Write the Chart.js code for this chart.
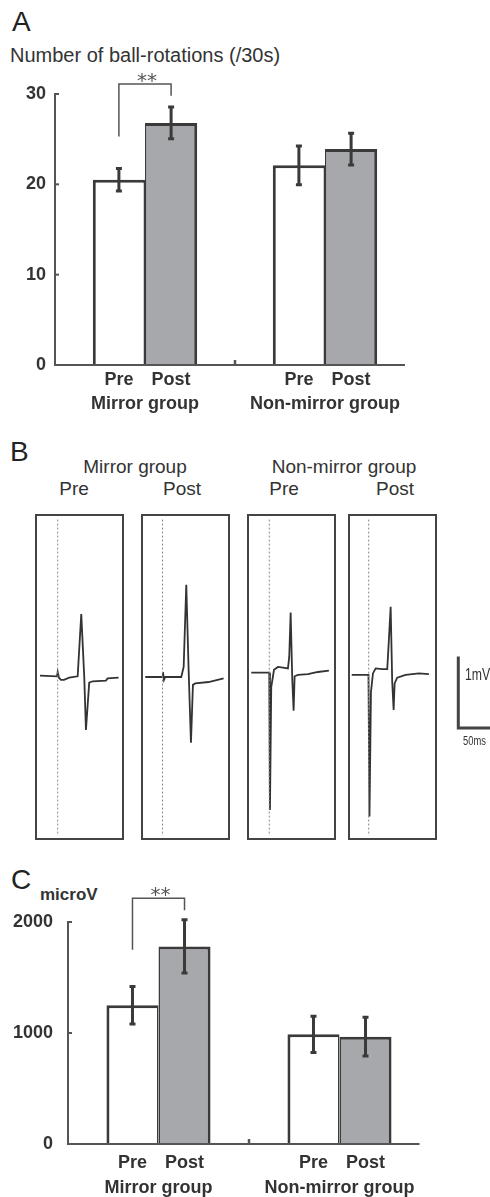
<!DOCTYPE html>
<html>
<head>
<meta charset="utf-8">
<script src="https://cdn.jsdelivr.net/npm/chart.js@4.4.0/dist/chart.umd.min.js"></script>
<style>
html, body { margin: 0; padding: 0; background: #fff; }
body { width: 490px; height: 1197px; position: relative; overflow: hidden;
       font-family: "Liberation Sans", Arial, sans-serif; color: #333; }
.wrap { position: absolute; }
.txt { position: absolute; line-height: 1; white-space: nowrap; }
.c { transform: translateX(-50%); }
.letter { font-size: 28px; color: #222; }
.hd { font-size: 19px; }
.narrow { transform: scaleX(0.72); transform-origin: 0 0; }
.box { position: absolute; top: 514px; width: 89px; height: 326px;
       border: 2px solid #444; box-sizing: border-box; }
.box div { position: relative; width: 85px; height: 322px; }
</style>
</head>
<body>

<!-- panel A -->
<div class="txt letter" style="left:12px;top:8px">A</div>
<div class="txt" style="left:10px;top:45px;font-size:20px">Number of ball-rotations (/30s)</div>
<div class="wrap" style="left:0;top:0;width:490px;height:420px"><canvas id="chartA"></canvas></div>

<!-- panel B -->
<div class="txt letter" style="left:10px;top:438px">B</div>
<div class="txt hd c" style="left:135px;top:457px">Mirror group</div>
<div class="txt hd c" style="left:74px;top:479px">Pre</div>
<div class="txt hd c" style="left:182px;top:479px">Post</div>
<div class="txt hd c" style="left:344px;top:457px">Non-mirror group</div>
<div class="txt hd c" style="left:284px;top:479px">Pre</div>
<div class="txt hd c" style="left:395px;top:479px">Post</div>

<div class="box" style="left:35px"><div><canvas id="tr0"></canvas></div></div>
<div class="box" style="left:141px"><div><canvas id="tr1"></canvas></div></div>
<div class="box" style="left:247px"><div><canvas id="tr2"></canvas></div></div>
<div class="box" style="left:348px"><div><canvas id="tr3"></canvas></div></div>

<div class="wrap" style="left:440px;top:640px;width:50px;height:100px"><canvas id="scaleBar"></canvas></div>
<div class="txt narrow" style="left:465px;top:666px;font-size:17px">1mV</div>
<div class="txt narrow" style="left:463px;top:734px;font-size:13px">50ms</div>

<!-- panel C -->
<div class="txt letter" style="left:11px;top:866px">C</div>
<div class="txt" style="left:40px;top:886px;font-size:17px;font-weight:bold">microV</div>
<div class="wrap" style="left:0;top:850px;width:490px;height:347px"><canvas id="chartC"></canvas></div>

<script>
// groups and phases
var groups = ['Mirror group', 'Non-mirror group'];
var phases = ['Pre', 'Post'];

// A: ball rotations per 30 s, mean and error
var rotPre = [20.5, 22.1];
var rotPost = [26.8, 23.9];
var rotPreErr = [1.25, 2.15];
var rotPostErr = [1.75, 1.75];
var rotTicks = [0, 10, 20, 30];

// C: MEP amplitude (microV)
var mepPre = [1250, 988];
var mepPost = [1780, 967];
var mepPreErr = [170, 163];
var mepPostErr = [240, 174];
var mepTicks = [0, 1000, 2000];

// B: MEP traces, time (ms) and voltage (mV)
var mirrorPreT = [4.2, 28.2, 29.2, 31.0, 33.8, 38.1, 45.5, 57.4, 62.5, 66.7, 69.1, 73.7, 78.5, 97.3, 99.7, 115.2];
var mirrorPreV = [0.02, 0.01, 0.07, -0.01, -0.04, -0.04, -0.01, 0.01, 0.88, 0.0, -0.74, -0.08, -0.06, -0.05, -0.02, -0.01];
var mirrorPostT = [3.2, 27.5, 28.2, 29.6, 31.4, 54.0, 57.4, 61.1, 64.4, 67.7, 70.5, 73.7, 92.6, 113.8];
var mirrorPostV = [0.0, 0.0, 0.07, -0.04, 0.0, 0.0, 0.14, 1.29, 0.10, -0.92, -0.11, -0.09, -0.07, -0.02];
var nonPreT = [3.2, 28.6, 29.6, 31.4, 35.3, 40.9, 47.9, 55.0, 56.8, 58.8, 61.1, 63.0, 64.4, 69.1, 83.2, 97.3, 112.8];
var nonPreV = [0.06, 0.06, -1.86, -0.14, 0.10, 0.14, 0.13, 0.12, 0.28, 0.90, -0.04, -0.47, 0.01, 0.03, 0.04, 0.07, 0.09];
var nonPostT = [2.4, 26.1, 27.5, 29.6, 32.4, 36.2, 45.5, 52.6, 55.0, 57.4, 59.6, 61.6, 63.0, 66.6, 78.5, 97.3, 111.4];
var nonPostV = [0.03, 0.03, -1.95, -0.21, 0.05, 0.12, 0.11, 0.11, 0.54, 0.98, -0.07, -0.46, -0.09, -0.01, 0.03, 0.05, 0.04];
var stimTimes = [29.2, 27.5, 28.6, 26.4];
var stimSpan = [2.2, -2.22];

var INK = '#3a3a3a';
var AXIS = '#555';
var labelFont = 'bold 18px "Liberation Sans", Arial, sans-serif';

// draws axis line, error bars, labels and the significance bracket
var figPlugin = {
  id: 'fig',
  afterDatasetsDraw: function(chart, args, o) {
    var ctx = chart.ctx, xs = chart.scales.x, ys = chart.scales.y, ca = chart.chartArea;
    var y0 = ys.getPixelForValue(0);
    ctx.save();
    ctx.strokeStyle = AXIS;
    ctx.lineWidth = 2;
    ctx.beginPath();
    ctx.moveTo(ca.left, y0);
    ctx.lineTo(xs.getPixelForValue(1) + o.axisTail, y0);
    ctx.stroke();
    var xm = xs.getPixelForValue(0.5);
    ctx.lineWidth = 2.5;
    ctx.beginPath(); ctx.moveTo(xm, y0); ctx.lineTo(xm, y0 - 5); ctx.stroke();
    ctx.lineWidth = 2;
    ys.ticks.forEach(function(t) {
      var y = ys.getPixelForValue(t.value);
      ctx.beginPath(); ctx.moveTo(ca.left, y); ctx.lineTo(ca.left + 4, y); ctx.stroke();
    });

    // error bars
    ctx.strokeStyle = INK;
    ctx.lineWidth = 3;
    chart.data.datasets.forEach(function(ds, i) {
      var meta = chart.getDatasetMeta(i);
      meta.data.forEach(function(bar, j) {
        var v = ds.data[j], e = o.err[i][j];
        var yt = ys.getPixelForValue(v + e), yb = ys.getPixelForValue(v - e);
        ctx.beginPath();
        ctx.moveTo(bar.x, yt); ctx.lineTo(bar.x, yb);
        ctx.moveTo(bar.x - 3, yt); ctx.lineTo(bar.x + 3, yt);
        ctx.moveTo(bar.x - 3, yb); ctx.lineTo(bar.x + 3, yb);
        ctx.stroke();
      });
    });

    // labels under bars
    ctx.fillStyle = '#333';
    ctx.font = labelFont;
    ctx.textAlign = 'center';
    ctx.textBaseline = 'alphabetic';
    chart.data.datasets.forEach(function(ds, i) {
      chart.getDatasetMeta(i).data.forEach(function(bar) {
        ctx.fillText(ds.label, bar.x, y0 + o.phaseDy);
      });
    });
    chart.data.labels.forEach(function(g, j) {
      ctx.fillText(g, xs.getPixelForValue(j), y0 + o.groupDy);
    });

    // significance bracket between Pre and Post of the first group
    var xl = chart.getDatasetMeta(0).data[0].x, xr = chart.getDatasetMeta(1).data[0].x;
    var yl = ys.getPixelForValue(o.sig[0]), ytop = ys.getPixelForValue(o.sig[1]), yr = ys.getPixelForValue(o.sig[2]);
    ctx.strokeStyle = AXIS;
    ctx.lineWidth = 1.5;
    ctx.beginPath();
    ctx.moveTo(xl, yl); ctx.lineTo(xl, ytop); ctx.lineTo(xr, ytop); ctx.lineTo(xr, yr);
    ctx.stroke();
    ctx.fillStyle = '#555';
    ctx.font = '20px "DejaVu Sans", sans-serif';
    ctx.fillText('**', (xl + xr) / 2 + 2, ytop + 3);
    ctx.restore();
  }
};

function barChart(id, pre, post, preErr, postErr, ticks, o) {
  return new Chart(document.getElementById(id), {
    type: 'bar',
    data: {
      labels: groups,
      datasets: [
        { label: phases[0], data: pre, backgroundColor: '#ffffff', borderColor: INK,
          borderWidth: { top: 3, left: 3, right: 1.5, bottom: 0 }, borderSkipped: 'start' },
        { label: phases[1], data: post, backgroundColor: '#a7a8ab', borderColor: INK,
          borderWidth: { top: 3, left: 1.5, right: 3, bottom: 0 }, borderSkipped: 'start' }
      ]
    },
    options: {
      responsive: true, maintainAspectRatio: false, animation: false,
      layout: { padding: { top: o.top, right: o.right, left: 0, bottom: 0 } },
      datasets: { bar: { categoryPercentage: o.catPct, barPercentage: 1 } },
      plugins: {
        legend: { display: false }, tooltip: { enabled: false },
        fig: { err: [preErr, postErr], sig: o.sig, phaseDy: o.phaseDy, groupDy: o.groupDy, axisTail: 80 }
      },
      scales: {
        x: { grid: { display: false, drawTicks: false }, border: { display: false },
             ticks: { display: false }, afterFit: function(s) { s.height = o.xh; } },
        y: { min: ticks[0], max: ticks[ticks.length - 1],
             afterBuildTicks: function(s) { s.ticks = ticks.map(function(v) { return { value: v }; }); },
             grid: { display: false, drawTicks: false },
             border: { color: AXIS, width: 2 },
             ticks: { padding: o.tickPad, color: '#333',
                      callback: function(v) { return String(v); },
                      font: { family: '"Liberation Sans", Arial, sans-serif', size: 18, weight: 'bold' } },
             afterFit: function(s) { s.width = o.yw; } }
      }
    },
    plugins: [figPlugin]
  });
}

barChart('chartA', rotPre, rotPost, rotPreErr, rotPostErr, rotTicks,
  { top: 94, right: 75, xh: 55, yw: 55, tickPad: 9, catPct: 0.58,
    sig: [25.3, 31.1, 29.8], phaseDy: 20, groupDy: 44 });

barChart('chartC', mepPre, mepPost, mepPreErr, mepPostErr, mepTicks,
  { top: 72, right: 60, xh: 53, yw: 68, tickPad: 15, catPct: 0.575,
    sig: [1749, 2214, 2106], phaseDy: 24, groupDy: 49 });

function traceChart(id, t, v, stim) {
  var pts = t.map(function(x, i) { return { x: x, y: v[i] }; });
  return new Chart(document.getElementById(id), {
    type: 'line',
    data: { datasets: [
      { data: [{ x: stim, y: stimSpan[0] }, { x: stim, y: stimSpan[1] }],
        borderColor: '#888', borderWidth: 1, borderDash: [2, 2] },
      { data: pts, borderColor: '#333', borderWidth: 1.8 }
    ] },
    options: {
      responsive: true, maintainAspectRatio: false, animation: false,
      layout: { padding: 0 },
      elements: { point: { radius: 0 }, line: { tension: 0 } },
      plugins: { legend: { display: false }, tooltip: { enabled: false } },
      scales: { x: { type: 'linear', display: false, min: 0, max: 120 },
                y: { display: false, min: -2.25, max: 2.25 } }
    }
  });
}

traceChart('tr0', mirrorPreT, mirrorPreV, stimTimes[0]);
traceChart('tr1', mirrorPostT, mirrorPostV, stimTimes[1]);
traceChart('tr2', nonPreT, nonPreV, stimTimes[2]);
traceChart('tr3', nonPostT, nonPostV, stimTimes[3]);

// scale bar: 1 mV by 50 ms, same units as the traces
new Chart(document.getElementById('scaleBar'), {
  type: 'line',
  data: { datasets: [{ data: [{ x: 0, y: 1 }, { x: 0, y: 0 }, { x: 50, y: 0 }],
                       borderColor: '#444', borderWidth: 3, borderJoinStyle: 'miter' }] },
  options: {
    responsive: true, maintainAspectRatio: false, animation: false,
    layout: { padding: 0 },
    elements: { point: { radius: 0 }, line: { tension: 0 } },
    plugins: { legend: { display: false }, tooltip: { enabled: false } },
    scales: { x: { type: 'linear', display: false, min: -25.8, max: 44.7 },
              y: { display: false, min: -0.168, max: 1.229 } }
  }
});
</script>
</body>
</html>
